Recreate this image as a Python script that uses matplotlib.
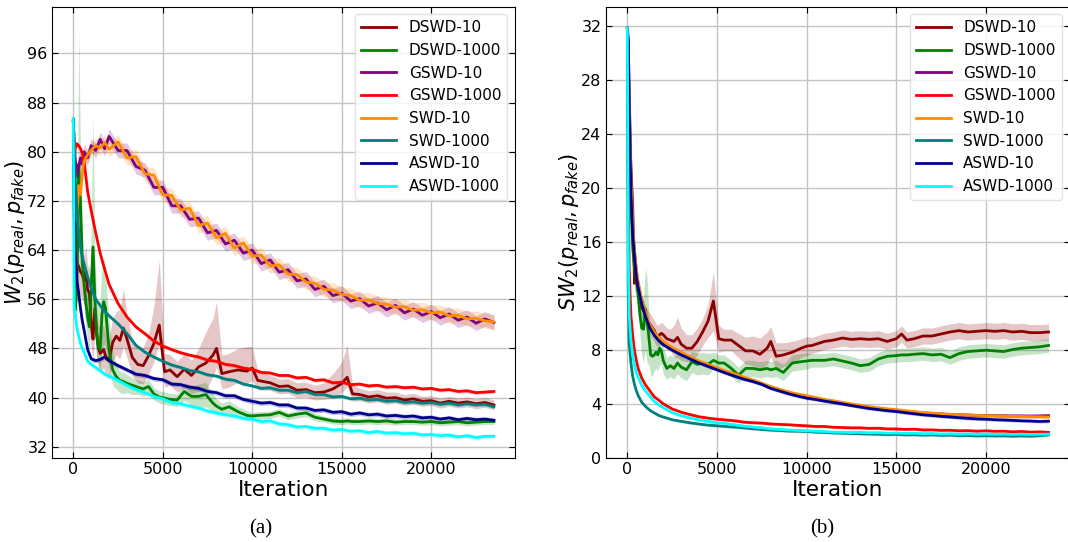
import matplotlib
matplotlib.use("Agg")
import matplotlib.pyplot as plt
import numpy as np

plt.rcParams['font.family'] = ['DejaVu Sans']
plt.rcParams['mathtext.fontset'] = 'dejavusans'

labels = ["DSWD-10", "DSWD-1000", "GSWD-10", "GSWD-1000", "SWD-10", "SWD-1000", "ASWD-10", "ASWD-1000"]
colors = ["darkred", "green", "purple", "red", "darkorange", "teal", "darkblue", "cyan"]

# shared iteration grid for the smoother curves
iters = [0, 50, 100, 200, 300, 400, 500, 600, 800, 1000, 1250, 1500, 1750, 2000, 2500, 3000, 3500, 4000,
         4500, 5000, 5500, 6000, 6500, 7000, 7500, 8000, 8500, 9000, 9500, 10000, 10500, 11000, 11500,
         12000, 12500, 13000, 13500, 14000, 14500, 15000, 15500, 16000, 16500, 17000, 17500, 18000, 18500,
         19000, 19500, 20000, 20500, 21000, 21500, 22000, 22500, 23000, 23500]
# iteration grid for the DSWD curves (spikier)
iters_d = [0, 100, 200, 300, 400, 500, 600, 700, 800, 900, 1000, 1100, 1200, 1300, 1400, 1500, 1600, 1700,
           1800, 1900, 2000, 2200, 2400, 2600, 2800, 3000, 3300, 3600, 3900, 4200, 4500, 4800, 5100, 5400,
           5800, 6200, 6600, 7000, 7400, 7800, 8000, 8300, 8700, 9200, 9700, 10000, 10300, 11000, 11500,
           12000, 12500, 13000, 13500, 14000, 14500, 15000, 15300, 15600, 16000, 16500, 17000, 17500, 18000,
           18500, 19000, 19500, 20000, 20500, 21000, 21500, 22000, 22500, 23000, 23500]

# ---------------- panel (a): W2 ----------------
w2_dswd10 = [85, 70, 62, 61.3, 60.5, 60.0, 59.0, 60.5, 57.5, 57.0, 52.0, 49.5, 54.5, 50.5, 48.0, 47.2, 47.5,
             47.8, 46.8, 46.2, 46.0, 49.0, 50.0, 49.3, 51.3, 49.5, 46.5, 45.4, 45.2, 46.8, 48.8, 51.8, 44.2,
             44.5, 43.4, 44.6, 43.6, 45.0, 45.6, 46.9, 48.0, 43.9, 44.2, 44.5, 44.3, 44.8, 42.8, 42.4, 41.8,
             41.9, 41.2, 41.3, 40.8, 40.9, 41.4, 42.3, 43.3, 40.6, 40.5, 40.1, 40.3, 39.9, 40.0, 39.6, 39.8,
             39.4, 39.5, 39.1, 39.4, 39.1, 39.3, 39.0, 39.2, 38.8]
w2_dswd10_hi = [0.5, 3, 4, 4, 4, 4, 4, 4, 4, 4, 5, 5, 5, 4, 4, 4, 4, 4, 3.5, 3.5, 3.5, 4, 4, 5, 6.5, 4, 3, 3,
                3, 3.5, 6, 10.5, 3, 2.5, 2.5, 2.5, 2.5, 3, 5, 6, 7.5, 3, 3, 3.5, 4, 3.5, 1.5, 1.2, 1.2, 1.2,
                1.2, 1.2, 1.2, 1.5, 2.5, 3.5, 5.2, 1.5, 1, 1, 1, 1, 0.9, 0.9, 0.9, 0.8, 0.8, 0.8, 0.8, 0.8,
                0.8, 0.8, 0.8, 0.8]
w2_dswd10_lo = [0.5, 3, 4, 4, 4, 4, 4, 4, 4, 4, 4, 3.5, 4, 3.5, 3, 3, 3, 3, 3, 3, 3, 3, 3, 3, 3, 3, 3, 3, 3,
                3, 3, 3, 2.5, 2.5, 2.5, 3, 3, 4, 4.5, 3.5, 3, 2.5, 2.5, 2, 2, 2, 1.5, 1.2, 1.2, 1.2, 1.2, 1.2,
                1.2, 1.2, 1.5, 1.5, 1.5, 1.2, 1, 1, 1, 1, 0.9, 0.9, 0.9, 0.8, 0.8, 0.8, 0.8, 0.8, 0.8, 0.8,
                0.8, 0.8]
w2_dswd1000 = [85, 54.2, 57.5, 78.0, 72.0, 62.0, 58.5, 55.5, 53.0, 51.5, 58.0, 64.5, 56.0, 50.5, 48.2, 47.8,
               53.5, 55.6, 54.5, 51.0, 47.7, 44.5, 43.4, 42.8, 42.6, 42.3, 42.0, 41.7, 41.4, 41.8, 40.6, 40.1,
               39.9, 39.7, 39.6, 41.0, 40.2, 40.2, 40.5, 39.1, 38.6, 38.1, 38.5, 37.7, 37.1, 37.0, 37.1, 37.2,
               37.6, 37.0, 37.3, 37.5, 36.8, 36.5, 36.2, 36.1, 36.2, 36.1, 36.1, 36.2, 36.1, 36.2, 36.0, 36.1,
               36.1, 36.0, 36.1, 35.9, 36.0, 36.1, 35.9, 36.0, 36.1, 36.1]
w2_dswd1000_hi = [0.5, 3, 6, 22, 8, 5, 4, 4, 4, 5, 10, 21.5, 8, 6, 7, 8, 8, 7, 6, 5, 5, 3, 2, 1.5, 1.5, 1.5,
                  1.2, 1.2, 1.2, 1.2, 1, 1, 1, 1, 1, 1.2, 1.5, 2, 2, 1.5, 1.2, 1, 1, 0.8, 0.8, 0.6, 0.6, 0.6,
                  0.6, 0.6, 0.6, 0.6, 0.6, 0.5, 0.5, 0.5, 0.5, 0.5, 0.5, 0.5, 0.5, 0.5, 0.5, 0.5, 0.5, 0.5,
                  0.5, 0.5, 0.5, 0.5, 0.5, 0.5, 0.5, 0.5]
w2_dswd1000_lo = [0.5, 3, 4, 6, 6, 5, 4, 4, 4, 4, 6, 8, 6, 4, 3, 3, 6, 7, 6, 5, 3, 2.5, 2, 2, 2, 1.5, 1.5,
                  1.2, 1.2, 1.2, 1, 1, 1, 1, 1, 1.5, 1.5, 2, 2, 1.5, 1.2, 1, 1, 0.8, 0.8, 0.6, 0.6, 0.6, 0.6,
                  0.6, 0.6, 0.6, 0.6, 0.5, 0.5, 0.5, 0.5, 0.5, 0.5, 0.5, 0.5, 0.5, 0.5, 0.5, 0.5, 0.5, 0.5,
                  0.5, 0.5, 0.5, 0.5, 0.5, 0.5, 0.5]
w2_gswd10 = [85, 82, 79, 76, 77.5, 79, 78, 80, 79, 81, 80.2, 82, 80.5, 82.5, 80.2, 80.2, 77.6, 77.0, 74.2,
             74.2, 71.2, 71.2, 69.0, 69.2, 66.8, 67.2, 65.0, 65.6, 63.5, 64.0, 61.8, 62.4, 60.4, 60.8, 59.0,
             59.3, 57.6, 58.1, 56.6, 57.0, 55.7, 56.1, 54.9, 55.4, 54.3, 55.0, 53.8, 54.4, 53.4, 54.0, 53.0,
             53.6, 52.6, 53.1, 52.1, 52.8, 52.2]
w2_gswd1000 = [76, 78.5, 80.5, 81.3, 81.0, 80.5, 79.8, 78.5, 73.5, 70.4, 66.8, 63.5, 60.9, 58.4, 55.3, 53.1,
               51.5, 50.4, 49.2, 48.4, 47.8, 47.3, 46.9, 46.6, 46.1, 45.9, 45.4, 45.2, 44.8, 44.6, 44.1, 44.0,
               43.6, 43.6, 43.2, 43.3, 42.8, 42.9, 42.4, 42.5, 42.1, 42.2, 41.9, 42.0, 41.7, 41.8, 41.6, 41.7,
               41.4, 41.5, 41.2, 41.3, 41.0, 41.1, 40.8, 40.9, 41.0]
w2_swd10 = [85, 80, 75, 69, 74.5, 73, 76.5, 78.5, 79.5, 80.3, 81.0, 80.6, 81.5, 80.4, 81.6, 79.0, 79.2, 76.4,
            76.2, 73.0, 72.9, 70.5, 70.8, 68.0, 68.4, 66.0, 66.7, 64.3, 65.2, 63.0, 63.2, 61.4, 61.6, 60.1,
            60.0, 58.8, 58.6, 57.6, 57.5, 56.8, 56.6, 55.8, 55.9, 55.3, 55.2, 54.7, 54.8, 54.2, 54.3, 53.8,
            53.9, 53.3, 53.4, 52.8, 52.9, 52.5, 52.3]
w2_swd1000 = [85, 80, 76, 71, 67, 64.5, 62.8, 61.8, 59.6, 57.8, 56.0, 55.0, 54.0, 53.3, 52.0, 50.4, 48.5,
              47.4, 46.6, 45.9, 45.3, 44.9, 44.4, 44.2, 43.7, 43.5, 43.0, 42.8, 42.2, 41.9, 41.5, 41.6, 41.2,
              41.2, 40.8, 41.0, 40.5, 40.5, 40.1, 40.2, 39.8, 39.9, 39.6, 39.7, 39.4, 39.5, 39.2, 39.3, 39.1,
              39.2, 38.9, 39.1, 38.8, 39.0, 38.8, 38.9, 38.5]
w2_aswd10 = [85.3, 70, 64, 59, 57, 54.5, 52.5, 51, 47.8, 46.3, 46.0, 46.2, 46.6, 46.0, 45.2, 44.5, 43.8,
             43.6, 43.1, 42.9, 42.2, 42.1, 41.7, 41.5, 41.0, 40.8, 40.3, 40.3, 39.7, 39.4, 39.1, 39.2, 38.8,
             38.8, 38.3, 38.3, 37.9, 38.0, 37.6, 37.7, 37.3, 37.5, 37.2, 37.3, 37.0, 37.1, 36.9, 37.0, 36.7,
             36.8, 36.5, 36.7, 36.4, 36.6, 36.4, 36.5, 36.3]
w2_aswd1000 = [85.3, 55, 53.5, 51.4, 50, 48.8, 48.0, 47.4, 45.9, 45.4, 44.9, 44.4, 43.8, 43.5, 42.8, 42.0,
               41.3, 40.8, 40.2, 39.8, 39.2, 39.0, 38.6, 38.3, 37.8, 37.5, 37.2, 37.0, 36.6, 36.5, 36.1, 36.2,
               35.7, 35.6, 35.2, 35.3, 35.0, 35.0, 34.7, 34.8, 34.5, 34.6, 34.3, 34.5, 34.2, 34.3, 34.1, 34.2,
               33.9, 34.0, 33.8, 33.9, 33.6, 33.8, 33.5, 33.7, 33.7]
# band half-widths, order: GSWD-10, GSWD-1000, SWD-10, SWD-1000, ASWD-10, ASWD-1000
w2_band = [1.2, 0.3, 1.2, 0.3, 0.4, 0.4]

# ---------------- panel (b): SW2 ----------------
sw2_dswd10 = [31.8, 26, 21.5, 18.5, 12.9, 13.7, 12.3, 11.4, 11.1, 10.9, 10.5, 10.2, 10.0, 9.8, 9.6, 9.4, 9.1,
              9.0, 9.1, 9.2, 9.1, 8.8, 8.7, 8.6, 8.9, 8.4, 8.1, 8.1, 8.6, 9.3, 10.1, 11.6, 8.8, 8.7, 8.7, 8.3,
              7.9, 7.9, 7.65, 8.1, 8.6, 7.5, 7.6, 7.8, 8.1, 8.25, 8.3, 8.6, 8.7, 8.85, 8.75, 8.8, 8.75, 8.8,
              8.6, 8.8, 9.15, 8.7, 8.8, 9.0, 9.0, 9.15, 9.3, 9.4, 9.3, 9.35, 9.4, 9.35, 9.4, 9.3, 9.35, 9.25,
              9.25, 9.3]
sw2_dswd10_sd = [0.2, 0.8, 0.8, 0.8, 0.8, 0.8, 0.8, 0.8, 0.8, 0.8, 0.8, 0.8, 0.8, 0.8, 0.8, 0.8, 0.8, 0.8,
                 0.8, 0.8, 0.8, 0.8, 0.8, 1.2, 1.5, 1.2, 1.0, 1.0, 1.0, 1.0, 1.2, 2.2, 1.0, 0.8, 0.8, 0.9,
                 1.0, 1.1, 1.2, 1.2, 1.1, 1.0, 0.9, 0.8, 0.7, 0.7, 0.6, 0.6, 0.6, 0.6, 0.6, 0.6, 0.6, 0.6,
                 0.6, 0.6, 0.6, 0.6, 0.6, 0.6, 0.6, 0.6, 0.6, 0.6, 0.6, 0.6, 0.6, 0.6, 0.6, 0.6, 0.6, 0.6,
                 0.6, 0.6]
sw2_dswd1000 = [31.8, 24, 19, 15.5, 14.0, 13.3, 12.0, 10.6, 9.6, 9.5, 11.0, 10.2, 8.9, 7.6, 7.5, 7.6, 7.8,
                7.6, 8.1, 7.9, 7.2, 6.6, 6.8, 6.6, 7.0, 6.7, 6.5, 7.1, 6.9, 7.0, 6.9, 7.2, 7.0, 7.0, 6.6, 6.1,
                6.6, 6.6, 6.5, 6.6, 6.5, 6.6, 6.3, 7.0, 7.1, 7.15, 7.2, 7.2, 7.3, 7.15, 7.0, 6.8, 6.9, 7.3,
                7.5, 7.55, 7.6, 7.6, 7.65, 7.7, 7.6, 7.65, 7.4, 7.7, 7.85, 7.9, 7.95, 7.9, 7.85, 8.0, 8.1,
                8.15, 8.2, 8.3]
sw2_dswd1000_sd = [0.2, 1, 1, 1, 1, 1, 1.2, 1.5, 2, 2.5, 3, 3.2, 2, 1.5, 1.5, 1.2, 1.2, 1.2, 1.2, 1, 1, 0.8,
                   0.8, 0.8, 0.8, 0.8, 0.8, 0.8, 0.8, 0.8, 0.8, 0.6, 0.6, 0.6, 0.6, 0.6, 0.6, 0.6, 0.6, 0.6,
                   0.6, 0.6, 0.6, 0.6, 0.6, 0.6, 0.5, 0.5, 0.5, 0.5, 0.5, 0.5, 0.5, 0.5, 0.5, 0.5, 0.5, 0.5,
                   0.5, 0.5, 0.5, 0.5, 0.5, 0.5, 0.5, 0.5, 0.5, 0.5, 0.5, 0.5, 0.5, 0.5, 0.5, 0.5]
sw2_gswd10 = [31.8, 30.5, 27.5, 20.8, 17.0, 15.2, 13.8, 12.9, 11.6, 10.7, 9.75, 9.2, 8.8, 8.5, 8.05, 7.7,
              7.35, 7.05, 6.8, 6.55, 6.3, 6.08, 5.88, 5.68, 5.45, 5.2, 5.0, 4.8, 4.64, 4.5, 4.38, 4.25, 4.15,
              4.03, 3.92, 3.82, 3.72, 3.64, 3.56, 3.5, 3.42, 3.36, 3.3, 3.26, 3.22, 3.18, 3.16, 3.14, 3.12,
              3.11, 3.1, 3.09, 3.08, 3.08, 3.07, 3.08, 3.1]
sw2_gswd1000 = [31.8, 20, 14, 10.5, 9.0, 7.9, 7.2, 6.6, 5.9, 5.4, 4.95, 4.5, 4.25, 3.98, 3.6, 3.36, 3.18,
                3.02, 2.92, 2.84, 2.78, 2.72, 2.62, 2.58, 2.55, 2.49, 2.45, 2.43, 2.38, 2.35, 2.3, 2.3, 2.24,
                2.22, 2.2, 2.2, 2.16, 2.17, 2.12, 2.12, 2.08, 2.1, 2.04, 2.05, 2.01, 2.02, 1.98, 1.99, 1.95,
                1.98, 1.94, 1.95, 1.9, 1.93, 1.88, 1.9, 1.86]
sw2_swd10 = [31.8, 30, 27, 20.5, 17.3, 15.4, 14.0, 13.0, 11.7, 10.8, 9.85, 9.3, 8.9, 8.6, 8.15, 7.8, 7.45,
             7.15, 6.9, 6.65, 6.4, 6.2, 5.95, 5.75, 5.5, 5.25, 5.05, 4.85, 4.7, 4.58, 4.45, 4.3, 4.2, 4.08,
             3.97, 3.86, 3.76, 3.68, 3.6, 3.55, 3.46, 3.4, 3.33, 3.28, 3.24, 3.2, 3.17, 3.15, 3.12, 3.1, 3.09,
             3.07, 3.05, 3.04, 3.03, 3.02, 3.0]
sw2_swd1000 = [31.8, 12, 8.5, 7.0, 6.0, 5.4, 4.95, 4.6, 4.1, 3.8, 3.5, 3.3, 3.12, 3.0, 2.8, 2.68, 2.57, 2.48,
               2.4, 2.35, 2.3, 2.25, 2.2, 2.13, 2.08, 2.03, 2.0, 1.96, 1.95, 1.93, 1.88, 1.86, 1.82, 1.8, 1.78,
               1.76, 1.74, 1.73, 1.7, 1.72, 1.68, 1.69, 1.66, 1.68, 1.64, 1.66, 1.62, 1.63, 1.6, 1.62, 1.6,
               1.61, 1.58, 1.6, 1.58, 1.62, 1.68]
sw2_aswd10 = [31.8, 31.0, 26, 19.5, 16.5, 14.8, 13.4, 12.6, 11.4, 10.5, 9.6, 9.05, 8.65, 8.35, 7.95, 7.6,
              7.3, 7.0, 6.75, 6.5, 6.25, 6.02, 5.8, 5.63, 5.42, 5.12, 4.92, 4.72, 4.55, 4.40, 4.3, 4.18, 4.08,
              3.97, 3.85, 3.74, 3.63, 3.55, 3.47, 3.41, 3.32, 3.24, 3.16, 3.11, 3.05, 3.0, 2.95, 2.9, 2.86,
              2.84, 2.8, 2.78, 2.75, 2.72, 2.7, 2.67, 2.69]
sw2_aswd1000 = [31.8, 15, 10.5, 8.6, 7.6, 6.8, 6.3, 5.95, 5.35, 4.95, 4.55, 4.15, 3.9, 3.7, 3.33, 3.1, 2.93,
                2.78, 2.68, 2.58, 2.52, 2.42, 2.33, 2.26, 2.2, 2.12, 2.08, 2.04, 2.01, 1.98, 1.95, 1.93, 1.88,
                1.87, 1.85, 1.86, 1.83, 1.84, 1.8, 1.82, 1.78, 1.8, 1.76, 1.78, 1.74, 1.76, 1.73, 1.75, 1.72,
                1.74, 1.72, 1.73, 1.71, 1.73, 1.71, 1.72, 1.73]
# band half-widths, order: GSWD-10, GSWD-1000, SWD-10, SWD-1000, ASWD-10, ASWD-1000
sw2_band = [0.15, 0.1, 0.15, 0.1, 0.12, 0.1]

w2_yticks = [32, 40, 48, 56, 64, 72, 80, 88, 96]
sw2_yticks = [0, 4, 8, 12, 16, 20, 24, 28, 32]
xticks = [0, 5000, 10000, 15000, 20000]

fig = plt.figure(figsize=(10.68, 5.42), dpi=100)
ax1 = fig.add_axes([0.04897, 0.1559, 0.4332, 0.8317])
ax2 = fig.add_axes([0.5677, 0.1559, 0.4338, 0.8317])


def draw(ax, d10, d10_lo, d10_hi, d1000, d1000_lo, d1000_hi, smooth, bands):
    xd = np.array(iters_d)
    xs = np.array(iters)
    series = [(xd, np.array(d10), np.array(d10_lo), np.array(d10_hi)),
              (xd, np.array(d1000), np.array(d1000_lo), np.array(d1000_hi))]
    for y, b in zip(smooth, bands):
        series.append((xs, np.array(y), b, b))
    for (x, y, lo, hi), c in zip(series, colors):
        ax.fill_between(x, y - lo, y + hi, color=c, alpha=0.22, lw=0, zorder=1)
    for (x, y, lo, hi), c, lab in zip(series, colors, labels):
        ax.plot(x, y, color=c, lw=2, label=lab, zorder=2)


draw(ax1, w2_dswd10, w2_dswd10_lo, w2_dswd10_hi, w2_dswd1000, w2_dswd1000_lo, w2_dswd1000_hi,
     [w2_gswd10, w2_gswd1000, w2_swd10, w2_swd1000, w2_aswd10, w2_aswd1000], w2_band)
sd10 = np.array(sw2_dswd10_sd)
sd1000 = np.array(sw2_dswd1000_sd)
draw(ax2, sw2_dswd10, sd10, sd10, sw2_dswd1000, sd1000, sd1000,
     [sw2_gswd10, sw2_gswd1000, sw2_swd10, sw2_swd1000, sw2_aswd10, sw2_aswd1000], sw2_band)

ax1.set_xlim(-1175, 24675)
ax1.set_ylim(30.25, 103.6)
ax1.set_yticks(w2_yticks)
ax2.set_xlim(-1175, 24675)
ax2.set_ylim(0, 33.4)
ax2.set_yticks(sw2_yticks)

for ax in (ax1, ax2):
    ax.set_xticks(xticks)
    ax.grid(True, color='#c4c4c4', lw=1.0)
    ax.set_axisbelow(True)
    ax.tick_params(direction='in', top=True, right=True, labelsize=11.5, length=4.5)
    ax.set_xlabel('Iteration', fontsize=15.5, labelpad=2)
    leg = ax.legend(loc='upper right', fontsize=11, labelspacing=0.5, handlelength=2.3, borderaxespad=0.5)
    leg.get_frame().set_edgecolor('#dddddd')

ax1.set_ylabel(r'$W_2(p_{real}, p_{fake})$', fontsize=15, labelpad=0)
ax2.set_ylabel(r'$SW_2(p_{real}, p_{fake})$', fontsize=15, labelpad=0)

fig.text(261 / 1068, 1 - 529 / 542, '(a)', ha='center', va='center', fontsize=15, family='Liberation Serif')
fig.text(822 / 1068, 1 - 529 / 542, '(b)', ha='center', va='center', fontsize=15, family='Liberation Serif')

fig.savefig('out.png', dpi=100)
